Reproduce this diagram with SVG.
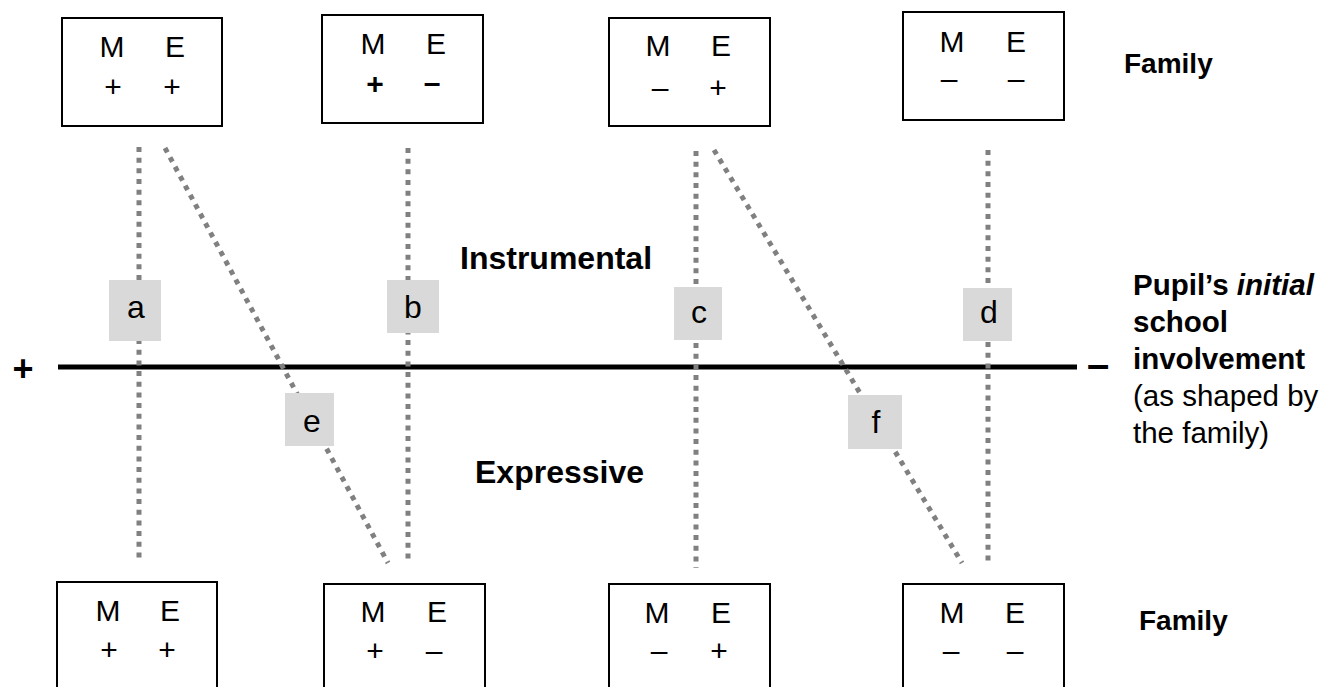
<svg xmlns="http://www.w3.org/2000/svg" width="1321" height="687" viewBox="0 0 1321 687">
<style>
.box{fill:#fff;stroke:#000;stroke-width:2}
.t{font-family:"Liberation Sans",Arial,sans-serif;font-size:30px;fill:#000;text-anchor:middle}
.sb{font-weight:bold}
.lbl{fill:#d9d9d9;stroke:none}
.lt{font-family:"Liberation Sans",Arial,sans-serif;font-size:32px;fill:#000;text-anchor:middle}
.dot{stroke:#808080;stroke-width:5;stroke-dasharray:5 5.67;fill:none}
.hd{font-family:"Liberation Sans",Arial,sans-serif;font-weight:bold;fill:#000}
.rt{font-family:"Liberation Sans",Arial,sans-serif;font-size:29.5px;fill:#000}
</style>
<rect width="1321" height="687" fill="#fff"/>

<g id="axis">
<line x1="58" y1="367" x2="1077" y2="367" stroke="#000" stroke-width="5"/>
<text class="hd" x="23" y="381" font-size="36" text-anchor="middle">+</text>
<text class="hd" x="1098" y="378" font-size="40" text-anchor="middle">–</text>
</g>

<g id="connectors">
<line class="dot" x1="139" y1="147" x2="139" y2="563"/>
<line class="dot" x1="165" y1="148" x2="388" y2="563"/>
<line class="dot" x1="408" y1="148" x2="408" y2="563"/>
<line class="dot" x1="696" y1="151" x2="696" y2="568"/>
<line class="dot" x1="714" y1="150" x2="962" y2="563"/>
<line class="dot" x1="988" y1="150" x2="988" y2="563"/>
</g>

<g id="label-a"><rect class="lbl" x="109" y="280" width="52" height="61"/><text class="lt" x="136" y="318">a</text></g>
<g id="label-b"><rect class="lbl" x="387" y="280" width="52" height="53"/><text class="lt" x="413" y="318">b</text></g>
<g id="label-c"><rect class="lbl" x="674" y="287" width="48" height="53"/><text class="lt" x="699" y="323">c</text></g>
<g id="label-d"><rect class="lbl" x="963" y="288" width="49" height="53"/><text class="lt" x="989" y="323">d</text></g>
<g id="label-e"><rect class="lbl" x="285" y="393" width="49" height="53"/><text class="lt" x="312" y="432">e</text></g>
<g id="label-f"><rect class="lbl" x="848" y="395" width="54" height="54"/><text class="lt" x="876" y="433">f</text></g>

<g id="top-1"><rect class="box" x="62" y="18" width="160" height="108"/>
<text class="t" x="112" y="57">M</text><text class="t" x="175" y="57">E</text>
<text class="t" x="113" y="97">+</text><text class="t" x="172" y="97">+</text></g>
<g id="top-2"><rect class="box" x="322" y="15" width="161" height="108"/>
<text class="t" x="373" y="54">M</text><text class="t" x="436" y="54">E</text>
<text class="t sb" x="375" y="94">+</text><text class="t sb" x="432" y="93">–</text></g>
<g id="top-3"><rect class="box" x="609" y="18" width="161" height="108"/>
<text class="t" x="658" y="56">M</text><text class="t" x="721" y="56">E</text>
<text class="t" x="660" y="98">–</text><text class="t" x="718" y="98">+</text></g>
<g id="top-4"><rect class="box" x="903" y="12" width="161" height="108"/>
<text class="t" x="952" y="52">M</text><text class="t" x="1016" y="52">E</text>
<text class="t" x="949" y="89">–</text><text class="t" x="1016" y="89">–</text></g>

<g id="bottom-1"><rect class="box" x="57" y="582" width="160" height="108"/>
<text class="t" x="108" y="621">M</text><text class="t" x="170" y="621">E</text>
<text class="t" x="109" y="660">+</text><text class="t" x="167" y="660">+</text></g>
<g id="bottom-2"><rect class="box" x="324" y="584" width="161" height="108"/>
<text class="t" x="373" y="622">M</text><text class="t" x="437" y="622">E</text>
<text class="t" x="375" y="661">+</text><text class="t" x="434" y="661">–</text></g>
<g id="bottom-3"><rect class="box" x="609" y="584" width="161" height="108"/>
<text class="t" x="657" y="623">M</text><text class="t" x="721" y="623">E</text>
<text class="t" x="659" y="661">–</text><text class="t" x="719" y="661">+</text></g>
<g id="bottom-4"><rect class="box" x="903" y="584" width="161" height="108"/>
<text class="t" x="952" y="623">M</text><text class="t" x="1015" y="623">E</text>
<text class="t" x="951" y="661">–</text><text class="t" x="1015" y="661">–</text></g>

<g id="labels">
<text class="hd" x="460" y="269" font-size="32">Instrumental</text>
<text class="hd" x="475" y="483" font-size="32">Expressive</text>
<text class="hd" x="1124" y="73" font-size="28">Family</text>
<text class="hd" x="1139" y="630" font-size="28">Family</text>
<text class="rt" x="1133" y="295" font-weight="bold">Pupil’s <tspan font-style="italic">initial</tspan></text>
<text class="rt" x="1133" y="332" font-weight="bold">school</text>
<text class="rt" x="1133" y="369" font-weight="bold">involvement</text>
<text class="rt" x="1133" y="406">(as shaped by</text>
<text class="rt" x="1133" y="443">the family)</text>
</g>
</svg>
